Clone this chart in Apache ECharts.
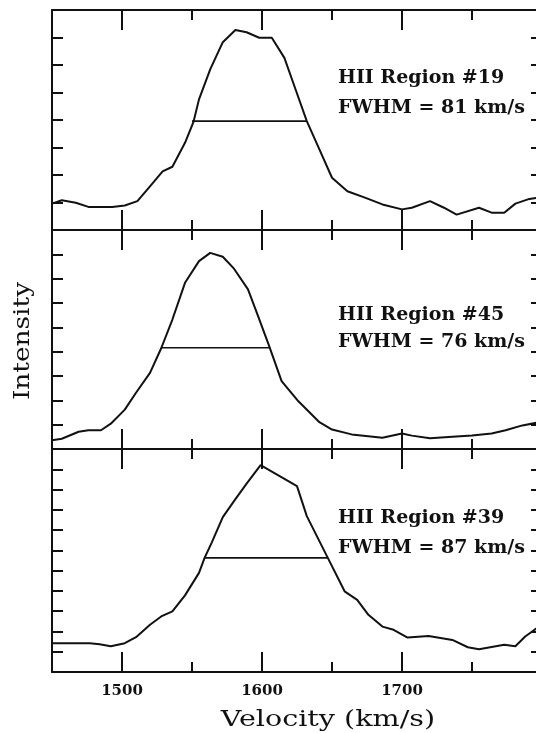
<!DOCTYPE html>
<html>
<head>
<meta charset="utf-8">
<script src="https://cdn.jsdelivr.net/npm/echarts@6/dist/echarts.min.js"></script>
<style>
  html, body { margin: 0; padding: 0; background: #fff; }
  #chart { width: 536px; height: 733px; }
</style>
</head>
<body>
<div id="chart"></div>
<script>
// velocity (km/s) and intensity (tick units) for each HII region
const vel19 = [1450, 1457, 1467, 1476, 1493, 1502, 1511, 1520, 1529, 1536, 1545, 1551, 1555, 1563, 1572, 1581, 1589, 1598, 1607, 1616, 1624, 1632, 1641, 1650, 1661, 1674, 1686, 1700, 1707, 1720, 1730, 1739, 1755, 1764, 1773, 1781, 1791, 1800]
const int19 = [0.96, 1.08, 0.99, 0.84, 0.84, 0.89, 1.05, 1.59, 2.13, 2.30, 3.17, 3.92, 4.75, 5.84, 6.83, 7.27, 7.19, 6.99, 6.99, 6.26, 5.11, 3.96, 2.93, 1.90, 1.41, 1.17, 0.93, 0.75, 0.81, 1.05, 0.81, 0.56, 0.81, 0.63, 0.63, 0.96, 1.13, 1.20]

const vel45 = [1450, 1457, 1469, 1476, 1485, 1492, 1502, 1510, 1520, 1528, 1536, 1545, 1555, 1563, 1572, 1580, 1590, 1597, 1605, 1614, 1626, 1641, 1650, 1664, 1686, 1700, 1707, 1720, 1736, 1750, 1764, 1774, 1786, 1800]
const int45 = [0.36, 0.42, 0.71, 0.77, 0.77, 1.04, 1.62, 2.31, 3.13, 4.14, 5.32, 6.83, 7.72, 8.06, 7.90, 7.41, 6.56, 5.49, 4.25, 2.79, 1.96, 1.10, 0.80, 0.60, 0.46, 0.64, 0.55, 0.44, 0.50, 0.55, 0.64, 0.77, 0.97, 1.12]

const vel39 = [1450, 1477, 1484, 1492, 1502, 1510, 1520, 1528, 1536, 1545, 1555, 1559, 1564, 1572, 1580, 1589, 1599, 1625, 1632, 1647, 1659, 1668, 1676, 1686, 1694, 1704, 1719, 1736, 1747, 1755, 1773, 1781, 1788, 1800]
const int39 = [1.42, 1.42, 1.37, 1.27, 1.42, 1.72, 2.33, 2.74, 2.99, 3.78, 4.89, 5.63, 6.37, 7.64, 8.43, 9.29, 10.20, 9.17, 7.69, 5.63, 3.98, 3.56, 2.82, 2.24, 2.08, 1.70, 1.78, 1.58, 1.22, 1.12, 1.34, 1.27, 1.75, 2.35]

// FWHM bars: [start velocity, end velocity], level
const fwhmRange = [[1550, 1632], [1528, 1605], [1559, 1647]]
const fwhmLevel = [3.96, 4.16, 5.63]

const regionLabels = ['HII Region #19', 'HII Region #45', 'HII Region #39']
const fwhmLabels = ['FWHM = 81 km/s', 'FWHM = 76 km/s', 'FWHM = 87 km/s']
const yMax = [8, 9, 11]
const majorTicks = [1500, 1600, 1700]
const minorTicks = [1550, 1650, 1750]

const velocities = [vel19, vel45, vel39]
const intensities = [int19, int45, int39]

const panels = [
  { top: 10, height: 220 },
  { top: 230, height: 219 },
  { top: 449, height: 223 }
]

const serif = '"DejaVu Serif", "Liberation Serif", serif'
const ink = '#111'

const chart = echarts.init(document.getElementById('chart'))

// plot runs 1450..1800 but the right edge falls just outside the picture
const grid = panels.map(p => ({
  left: 52, width: 490, top: p.top, height: p.height,
  outerBoundsMode: 'none', containLabel: false
}))

const xAxis = []
const yAxis = []
const series = []

panels.forEach((p, gi) => {
  ;['bottom', 'top'].forEach(pos => {
    const isLabelled = gi === 2 && pos === 'bottom'
    xAxis.push({
      type: 'value', gridIndex: gi, position: pos, min: 1450, max: 1800,
      axisLine: { show: true, lineStyle: { color: ink, width: 2 } },
      axisTick: { show: true, inside: true, length: 20, customValues: majorTicks, lineStyle: { color: ink, width: 2 } },
      axisLabel: isLabelled
        ? {
            show: true, customValues: majorTicks, color: ink, fontFamily: serif,
            fontWeight: 'bold', fontSize: 15, margin: 12, formatter: v => String(v)
          }
        : { show: false },
      splitLine: { show: false }
    })
    xAxis.push({
      type: 'value', gridIndex: gi, position: pos, min: 1450, max: 1800,
      axisLine: { show: false },
      axisTick: { show: true, inside: true, length: 10, customValues: minorTicks, lineStyle: { color: ink, width: 2 } },
      axisLabel: { show: false },
      splitLine: { show: false }
    })
  })
  ;['left', 'right'].forEach(pos => {
    yAxis.push({
      type: 'value', gridIndex: gi, position: pos, min: 0, max: yMax[gi], interval: 1,
      axisLine: { show: true, lineStyle: { color: ink, width: 2 } },
      axisTick: { show: true, inside: true, length: 11, lineStyle: { color: ink, width: 2 } },
      axisLabel: { show: false },
      splitLine: { show: false }
    })
  })

  series.push({
    type: 'line', xAxisIndex: gi * 4, yAxisIndex: gi * 2,
    data: velocities[gi].map((v, i) => [v, intensities[gi][i]]),
    showSymbol: false, symbol: 'none',
    lineStyle: { color: ink, width: 2 }
  })
  series.push({
    type: 'line', xAxisIndex: gi * 4, yAxisIndex: gi * 2,
    data: fwhmRange[gi].map(v => [v, fwhmLevel[gi]]),
    showSymbol: false, symbol: 'none',
    lineStyle: { color: ink, width: 1.6 }
  })
})

const textAt = [[78, 108], [315, 342], [518, 548]]
const graphic = []
textAt.forEach((ys, gi) => {
  graphic.push({
    type: 'text', x: 338, y: ys[0],
    style: { text: regionLabels[gi], fill: ink, font: 'bold 19px ' + serif, verticalAlign: 'middle' }
  })
  graphic.push({
    type: 'text', x: 338, y: ys[1],
    style: { text: fwhmLabels[gi], fill: ink, font: 'bold 19px ' + serif, verticalAlign: 'middle' }
  })
})
// the original lettering is wider than DejaVu Serif, so stretch it a bit
graphic.push({
  type: 'text', x: 328, y: 720, scaleX: 1.3,
  style: { text: 'Velocity (km/s)', fill: ink, font: '22px ' + serif, align: 'center', verticalAlign: 'middle' }
})
graphic.push({
  type: 'text', x: 23, y: 341, rotation: Math.PI / 2, scaleX: 1.2,
  style: { text: 'Intensity', fill: ink, font: '22px ' + serif, align: 'center', verticalAlign: 'middle' }
})

chart.setOption({
  animation: false,
  backgroundColor: '#fff',
  grid, xAxis, yAxis, series, graphic
})
</script>
</body>
</html>
